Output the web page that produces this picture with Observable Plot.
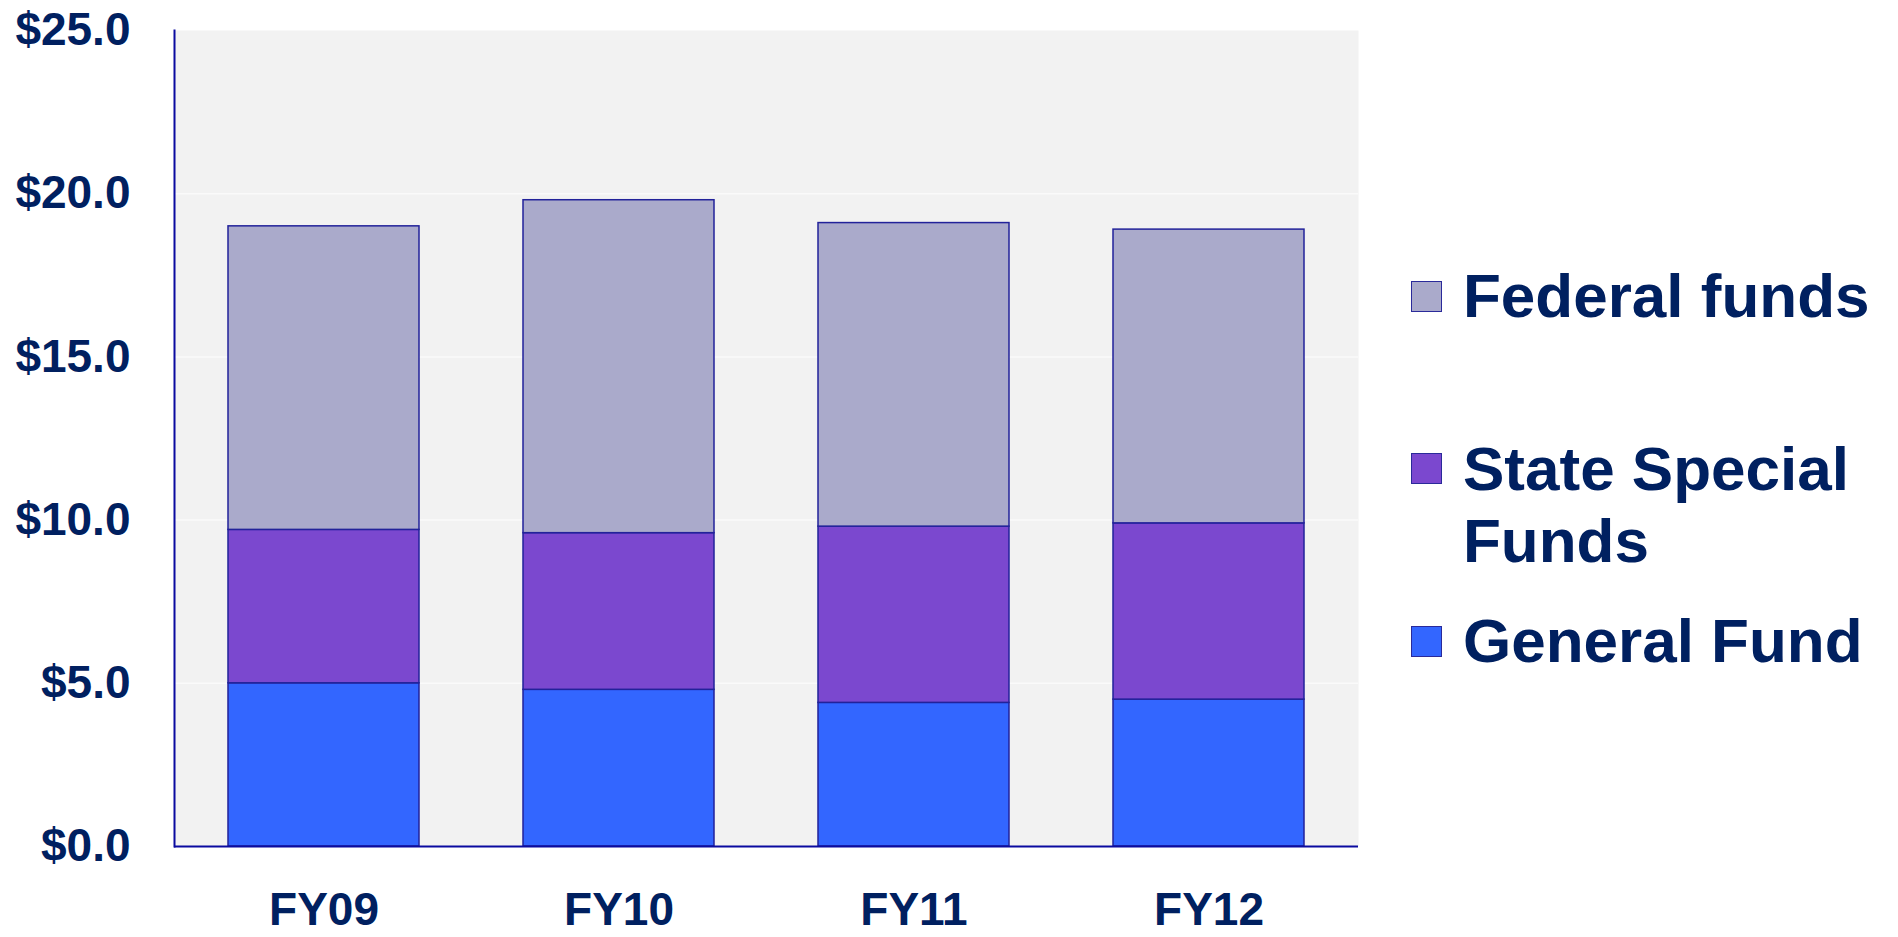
<!DOCTYPE html>
<html>
<head>
<meta charset="utf-8">
<script src="https://cdn.jsdelivr.net/npm/d3@7"></script>
<script src="https://cdn.jsdelivr.net/npm/@observablehq/plot@0.6"></script>
<style>
  html, body { margin: 0; padding: 0; background: #ffffff; }
  #wrap { position: relative; width: 1898px; height: 937px; overflow: hidden; }
  #legend { position: absolute; left: 0; top: 0; font-family: "Liberation Sans", Arial, sans-serif; font-weight: bold; color: #002060; }
  .item { position: absolute; left: 1463px; font-size: 62px; line-height: 72px; white-space: nowrap; }
  .sw { position: absolute; left: 1411px; width: 31px; height: 31px; box-sizing: border-box; border: 1.5px solid #2a2a9a; }
</style>
</head>
<body>
<div id="wrap"><div id="chart"></div><div id="legend"></div></div>
<script>
const years = ["FY09", "FY10", "FY11", "FY12"];
const generalFund = [5.0, 4.8, 4.4, 4.5];
const stateSpecialFunds = [4.7, 4.8, 5.4, 5.4];
const federalFunds = [9.3, 10.2, 9.3, 9.0];
const seriesNames = ["General Fund", "State Special Funds", "Federal funds"];
const seriesColors = ["#3366ff", "#7b48cf", "#aaaacb"];
const yTicks = [0, 5, 10, 15, 20, 25];
const gridValues = [5, 10, 15, 20];

const seriesValues = [generalFund, stateSpecialFunds, federalFunds];
const data = [];
seriesNames.forEach((s, i) => {
  years.forEach((y, j) => data.push({year: y, series: s, value: seriesValues[i][j]}));
});

const chart = Plot.plot({
  width: 1898,
  height: 937,
  marginLeft: 174,
  marginRight: 540,
  marginTop: 30,
  marginBottom: 91,
  style: {fontFamily: "'Liberation Sans', Arial, sans-serif", fontWeight: "bold", color: "#002060", background: "#ffffff"},
  x: {domain: years, paddingInner: 0.354, paddingOuter: 0.179, label: null},
  y: {domain: [0, 25], label: null},
  color: {domain: seriesNames, range: seriesColors},
  marks: [
    Plot.frame({fill: "#f2f2f2", stroke: null}),
    Plot.ruleY(gridValues, {stroke: "#fafafa", strokeWidth: 1.5}),
    Plot.barY(data, {x: "year", y: "value", fill: "series", stroke: "#22229a", strokeWidth: 1.5, order: seriesNames}),
    Plot.axisY({ticks: yTicks, tickSize: 0, tickPadding: 44, tickFormat: d => "$" + d.toFixed(1), fontSize: 46, fontWeight: "bold", fill: "#002060", label: null}),
    Plot.axisX({tickSize: 0, tickPadding: 46, fontSize: 46, fontWeight: "bold", fill: "#002060", label: null}),
    Plot.frame({anchor: "left", stroke: "#0b0ba0", strokeWidth: 2}),
    Plot.ruleY([0], {stroke: "#0b0ba0", strokeWidth: 2})
  ]
});
document.getElementById("chart").appendChild(chart);

// Legend (HTML), built from the series arrays
const legendTops = {"Federal funds": 260, "State Special Funds": 433, "General Fund": 605};
const swatchTops = {"Federal funds": 281, "State Special Funds": 453, "General Fund": 626};
const legendLabels = {"Federal funds": "Federal funds", "State Special Funds": "State Special<br>Funds", "General Fund": "General Fund"};
const legend = document.getElementById("legend");
seriesNames.slice().reverse().forEach(name => {
  const i = seriesNames.indexOf(name);
  const sw = document.createElement("div");
  sw.className = "sw";
  sw.style.top = swatchTops[name] + "px";
  sw.style.background = seriesColors[i];
  legend.appendChild(sw);
  const t = document.createElement("div");
  t.className = "item";
  t.style.top = legendTops[name] + "px";
  t.innerHTML = legendLabels[name];
  legend.appendChild(t);
});
</script>
</body>
</html>
